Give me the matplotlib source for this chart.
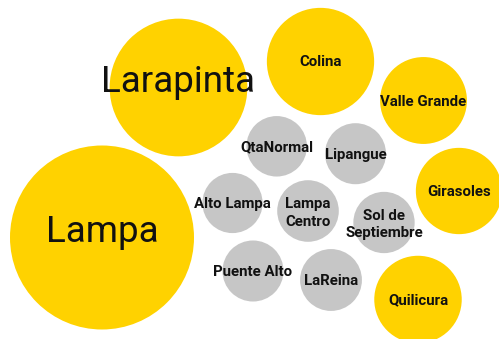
import numpy as np
import matplotlib.pyplot as plt
from matplotlib.patches import Circle

plt.rcParams['font.family'] = ['Roboto', 'DejaVu Sans']

# comunas y valor (area relativa de cada burbuja)
labels = ["Lampa", "Larapinta", "Colina", "Valle Grande", "Girasoles", "Quilicura",
          "QtaNormal", "Lipangue", "Alto Lampa", "Lampa\nCentro", "Sol de\nSeptiembre",
          "Puente Alto", "LaReina"]
values = [100, 56, 34, 22.3, 22, 22.6, 10.8, 11, 10.7, 11.2, 11.1, 11, 11.3]
highlight = [True, True, True, True, True, True,
             False, False, False, False, False, False, False]

# posicion de cada burbuja (layout empaquetado, en pixeles)
cx = [102, 178.5, 320.5, 423.5, 459, 418, 276.7, 355.5, 232.5, 308, 384, 253, 331]
cy = [237.5, 87.5, 61.5, 100.5, 191, 299.5, 146.3, 153.7, 203, 211, 222.5, 271, 280]

W, H = 499, 339
fig = plt.figure(figsize=(W / 100, H / 100), dpi=100)
ax = fig.add_axes([0, 0, 1, 1])
ax.set_xlim(0, W)
ax.set_ylim(H, 0)
ax.set_aspect('equal')
ax.axis('off')

r_max = 92
for lab, v, hl, x, y in zip(labels, values, highlight, cx, cy):
    r = r_max * np.sqrt(v / 100)
    ax.add_patch(Circle((x, y), r, color='#FFD200' if hl else '#C6C6C6', lw=0))
    big = v > 50
    lines = lab.split('\n')
    n = len(lines)
    base = 5 if n == 1 else 6
    for i, line in enumerate(lines):
        yy = y + base + (i - (n - 1) / 2) * 17.5
        ax.text(x, yy, line, ha='center', va='baseline', color='#111111',
                fontsize=26.5 if big else 10.8,
                fontweight='normal' if big else 'bold')

fig.savefig('out.png', dpi=100)
